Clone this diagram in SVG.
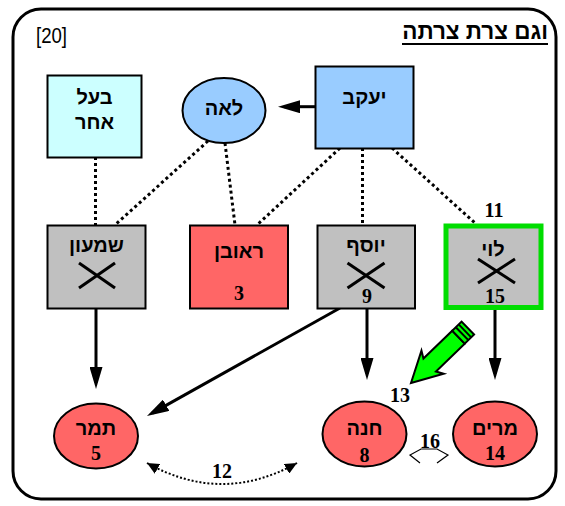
<svg xmlns="http://www.w3.org/2000/svg" width="565" height="506" viewBox="0 0 565 506">
<defs>
<style>
.box{stroke:#000;stroke-width:2}
.he{font-family:"Liberation Sans","DejaVu Sans",sans-serif;font-weight:bold;font-size:20px;text-anchor:middle;fill:#000}
.num{font-family:"Liberation Serif","DejaVu Serif",serif;font-weight:bold;font-size:20px;text-anchor:middle;fill:#000}
.dot{stroke:#000;stroke-width:3;stroke-dasharray:3 3;fill:none}
.sol{stroke:#000;stroke-width:3;fill:none}
.x{stroke:#000;stroke-width:3}
</style>
<marker id="ah" markerUnits="userSpaceOnUse" markerWidth="22" markerHeight="13" refX="16" refY="6.5" orient="auto"><path d="M0,0 L22,6.5 L0,13 z" fill="#000"/></marker>
<marker id="sh" markerUnits="userSpaceOnUse" markerWidth="12" markerHeight="11" refX="12" refY="5.5" orient="auto-start-reverse"><path d="M0,0 L12,5.5 L0,11 z" fill="#000"/></marker>
</defs>
<rect width="565" height="506" fill="#fff"/>
<rect x="13" y="9" width="543" height="490" rx="28" fill="#fff" stroke="#000" stroke-width="3"/>
<g id="title">
<text x="548" y="38.5" class="he" style="text-anchor:end;font-size:22.5px">וגם צרת צרתה</text>
<line x1="402" y1="44" x2="548" y2="44" stroke="#000" stroke-width="1.8"/>
</g>
<text id="ref" x="36" y="43" font-family="Liberation Sans, DejaVu Sans, sans-serif" font-size="22" textLength="31" lengthAdjust="spacingAndGlyphs">[20]</text>

<g id="connectors">
<line class="dot" x1="95.5" y1="157" x2="95.5" y2="225"/>
<line class="dot" x1="208" y1="141" x2="115" y2="225"/>
<line class="dot" x1="225" y1="143" x2="235" y2="225"/>
<line class="dot" x1="340" y1="148" x2="257" y2="225"/>
<line class="dot" x1="362.5" y1="148" x2="362.5" y2="225"/>
<line class="dot" x1="392" y1="148" x2="475" y2="223"/>
<line class="sol" x1="316" y1="106.7" x2="284" y2="106.7" marker-end="url(#ah)"/>
<line class="sol" x1="96" y1="308" x2="96" y2="383" marker-end="url(#ah)"/>
<line class="sol" x1="340" y1="308" x2="152.2" y2="413.1" marker-end="url(#ah)"/>
<line class="sol" x1="367" y1="308" x2="367" y2="374" marker-end="url(#ah)"/>
<line class="sol" x1="495" y1="310" x2="495" y2="374" marker-end="url(#ah)"/>
<path d="M147,463 Q222,505 297,463" stroke="#000" stroke-width="2" stroke-dasharray="2 2" fill="none" marker-start="url(#sh)" marker-end="url(#sh)"/>
<path d="M420,463 L410,455 L421,449 L437,449 L448,455 L437,463" fill="none" stroke="#000" stroke-width="1.2"/>
<g id="pencil" transform="translate(411,383) rotate(136)" stroke="#000" stroke-width="2" stroke-linejoin="miter">
<path d="M0,0 L-30,-16 L-26,-9 L-66,-9 L-66,9 L-26,9 L-30,16 Z" fill="#00ff00"/>
<rect x="-79" y="-9" width="13" height="18" fill="#00ff00"/>
<line x1="-71" y1="-9" x2="-71" y2="9"/>
<line x1="-75" y1="-9" x2="-75" y2="9"/>
</g>
<text class="num" x="494" y="217">11</text>
<text class="num" x="400" y="402">13</text>
<text class="num" x="430" y="448">16</text>
<text class="num" x="222" y="478">12</text>
</g>

<g id="baal">
<rect class="box" x="47.5" y="75.5" width="94" height="82" fill="#ccffff"/>
<text class="he" x="94.5" y="104">בעל</text>
<text class="he" x="94.5" y="129">אחר</text>
</g>
<g id="lea">
<ellipse class="box" cx="224" cy="110.5" rx="41.5" ry="32.5" fill="#99ccff"/>
<text class="he" x="224" y="115">לאה</text>
</g>
<g id="yaakov">
<rect class="box" x="315.5" y="66.5" width="98" height="82" fill="#99ccff"/>
<text class="he" x="364.5" y="104">יעקב</text>
</g>
<g id="shimon">
<rect class="box" x="47.5" y="225.5" width="98" height="83" fill="#c0c0c0"/>
<text class="he" x="96.5" y="252">שמעון</text>
<line class="x" x1="79" y1="263" x2="115" y2="288"/>
<line class="x" x1="79" y1="288" x2="115" y2="263"/>
</g>
<g id="reuven">
<rect class="box" x="190" y="225.5" width="98" height="83" fill="#ff6666"/>
<text class="he" x="239" y="258">ראובן</text>
<text class="num" x="239" y="300">3</text>
</g>
<g id="yosef">
<rect class="box" x="317.5" y="225.5" width="97.5" height="83" fill="#c0c0c0"/>
<text class="he" x="366" y="252">יוסף</text>
<line class="x" x1="347.5" y1="263" x2="384.5" y2="288"/>
<line class="x" x1="347.5" y1="288" x2="384.5" y2="263"/>
<text class="num" x="367" y="303">9</text>
</g>
<g id="levi">
<rect x="446" y="226" width="95" height="81.5" fill="#c0c0c0" stroke="#00dd00" stroke-width="5"/>
<text class="he" x="493" y="256">לוי</text>
<line class="x" x1="478" y1="259" x2="515" y2="283"/>
<line class="x" x1="478" y1="283" x2="515" y2="259"/>
<text class="num" x="495" y="303">15</text>
</g>
<g id="tamar">
<ellipse class="box" cx="96" cy="436" rx="42" ry="32.5" fill="#ff6666"/>
<text class="he" x="96" y="435">תמר</text>
<text class="num" x="96" y="460">5</text>
</g>
<g id="hana">
<ellipse class="box" cx="364.5" cy="434" rx="42" ry="32.5" fill="#ff6666"/>
<text class="he" x="364.5" y="435">חנה</text>
<text class="num" x="364.5" y="461.5">8</text>
</g>
<g id="miriam">
<ellipse class="box" cx="495" cy="434" rx="42" ry="32.5" fill="#ff6666"/>
<text class="he" x="495" y="435">מרים</text>
<text class="num" x="495" y="460">14</text>
</g>
</svg>
